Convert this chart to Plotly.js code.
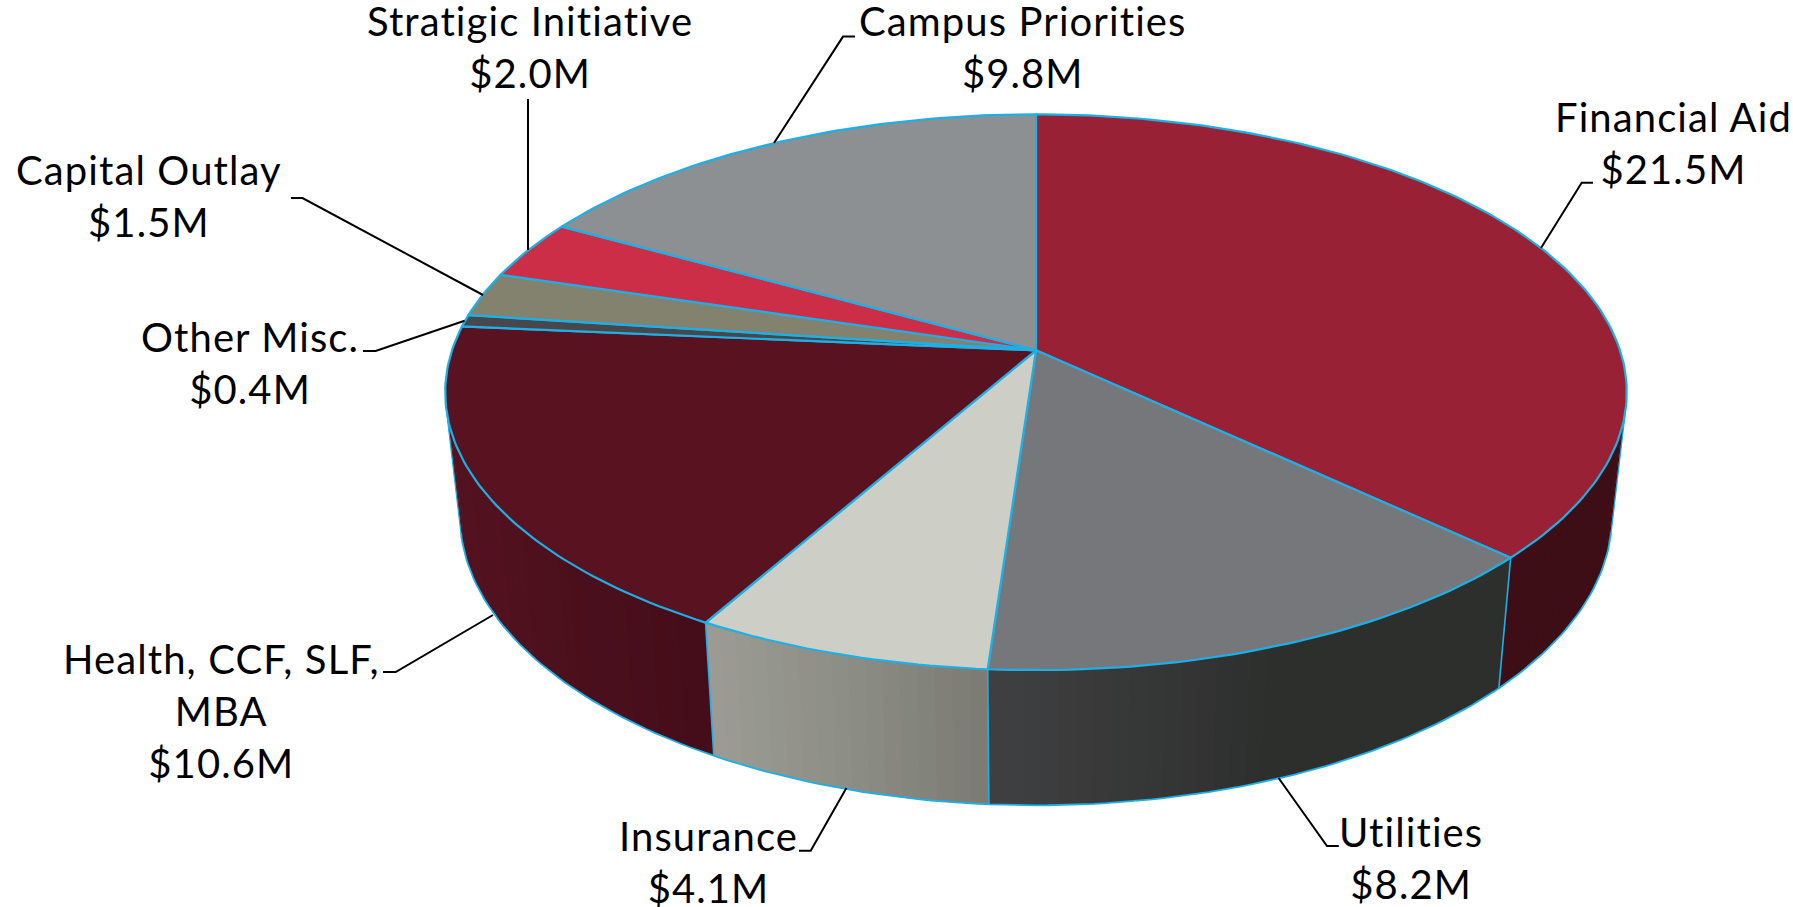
<!DOCTYPE html>
<html>
<head>
<meta charset="utf-8">
<script src="https://cdn.plot.ly/plotly-3.0.1.min.js"></script>
<style>html,body{margin:0;padding:0;background:#fff;overflow:hidden}#chart{width:1793px;height:907px}
.annotation-text{letter-spacing:1.1px}</style>
</head>
<body>
<div id="chart"></div>
<script>
// ---- data, clockwise from 12 o'clock ----
const categories = ['Financial Aid','Utilities','Insurance','Health, CCF, SLF,<br>MBA','Other Misc.','Capital Outlay','Stratigic Initiative','Campus Priorities'];
const values     = [21.5, 8.2, 4.1, 10.6, 0.4, 1.5, 2.0, 9.8];
const topColors  = ['#982135','#76777b','#cdcec6','#59121f','#47484c','#82826f','#cd2e47','#8c9093'];
// side wall shading, screen left -> middle -> right
const wallLeft   = ['#3e0e16','#404042','#9c9c94','#54121f','#47484c','#82826f','#cd2e47','#8c9093'];
const wallMid    = ['#3e0e16','#2d2f2d','#8a8b83','#4a0f1c','#47484c','#82826f','#cd2e47','#8c9093'];
const wallRight  = ['#3e0e16','#2d2f2d','#7a7a72','#440d19','#47484c','#82826f','#cd2e47','#8c9093'];
const edgeColor  = '#1cb0e6';

// ---- label placement (page pixels) ----
const labelX = [1673,1411,708,221,250,148.6,529.5,1023];
const labelY = [143,858,862,711,363,196,47,47];
const leaderX = [[1593,1581.7,1541],[1338.8,1327,1278.6],[799,810.7,846.4],[383,395.7,493],[363,375.6,464.6],[291,302.5,483],[528,528],[855,843,774]];
const leaderY = [[182.7,182.7,248],[846,846,778],[850.7,850.7,788],[672,672,615],[351,351,320.7],[198,198,295],[99,250],[36.6,36.6,143]];

// ---- perspective discs: angle is clockwise from the far point ----
const topDisc = {x0:1036,y0:350.3,A:584,a:271.6,b:0.151};
const botDisc = {x0:1036,y0:472,A:569.5,a:283,b:0.151};
function P(d,deg){
  const r=deg*Math.PI/180, sx=Math.sin(r), near=-Math.cos(r), den=1-d.b*near;
  return [d.x0+d.A*sx/den, d.y0+d.a*near/den];
}
function arc(d,from,to,step){
  const pts=[], n=Math.max(2,Math.ceil(Math.abs(to-from)/(step||1)));
  for(let i=0;i<=n;i++) pts.push(P(d,from+(to-from)*i/n));
  return pts;
}
function hex(c){return [1,3,5].map(i=>parseInt(c.substr(i,2),16));}
function mix(c1,c2,t){const a=hex(c1),b=hex(c2);return 'rgb('+a.map((v,i)=>Math.round(v+(b[i]-v)*t)).join(',')+')';}
function poly(pts,opt){
  return Object.assign({type:'scatter',mode:'lines',x:pts.map(p=>p[0]),y:pts.map(p=>p[1]),hoverinfo:'skip',showlegend:false},opt);
}

const total=values.reduce((s,v)=>s+v,0);
const bounds=[0]; values.forEach(v=>bounds.push(bounds[bounds.length-1]+v/total*360));

// silhouette angle on the right: where the wall segment is tangent to the rim
function silhouette(){
  let best=90,bestV=1e9;
  for(let t=50;t<=130;t+=0.25){
    const a=P(topDisc,t),b=P(botDisc,t),c=P(botDisc,t+0.25);
    const cr=Math.abs((b[0]-a[0])*(c[1]-b[1])-(b[1]-a[1])*(c[0]-b[0]));
    if(cr<bestV){bestV=cr;best=t;}
  }
  return best;
}
const sR=silhouette(), sL=360-sR;

const traces=[];
// side walls
values.forEach((v,i)=>{
  const from=Math.max(bounds[i],sR-2), to=Math.min(bounds[i+1],sL+2);
  if(to<=from) return;
  const xL=P(topDisc,to)[0], xR=P(topDisc,from)[0];
  const n=Math.max(1,Math.ceil((to-from)/1.5));
  for(let k=0;k<n;k++){
    const t0=from+(to-from)*k/n, t1=from+(to-from)*Math.min(n,k+1.4)/n;
    const xm=P(topDisc,(t0+t1)/2)[0];
    const f=(xm-xL)/Math.max(1,xR-xL);
    const col=f<0.55?mix(wallLeft[i],wallMid[i],f/0.55):mix(wallMid[i],wallRight[i],(f-0.55)/0.45);
    const pts=arc(topDisc,t0,t1,0.5).concat(arc(botDisc,t1,t0,0.5));
    pts.push(pts[0]);
    traces.push(poly(pts,{fill:'toself',fillcolor:col,line:{width:0,color:col}}));
  }
});
// wall outline: bottom rim, silhouettes, seams
traces.push(poly(arc(botDisc,sR,sL,1),{line:{color:edgeColor,width:1.8}}));
[sR,sL].forEach(t=>traces.push(poly([P(topDisc,t),P(botDisc,t)],{line:{color:edgeColor,width:1.2}})));
bounds.slice(1,-1).forEach(t=>{
  if(t>sR&&t<sL) traces.push(poly([P(topDisc,t),P(botDisc,t)],{line:{color:edgeColor,width:1.6}}));
});
// top face
values.forEach((v,i)=>{
  const pts=[[topDisc.x0,topDisc.y0]].concat(arc(topDisc,bounds[i],bounds[i+1],1));
  pts.push(pts[0]);
  traces.push(poly(pts,{fill:'toself',fillcolor:topColors[i],line:{color:edgeColor,width:2.2}}));
});
// leader lines
leaderX.forEach((xs,i)=>traces.push({type:'scatter',mode:'lines',x:xs,y:leaderY[i],hoverinfo:'skip',showlegend:false,line:{color:'#000',width:2}}));

const annotations=categories.map((c,i)=>({
  x:labelX[i],y:labelY[i],xref:'x',yref:'y',xanchor:'center',yanchor:'middle',align:'center',showarrow:false,
  text:c+'<br>$'+values[i].toFixed(1)+'M',
  font:{family:'Lato, "Open Sans", sans-serif',size:40,color:'#000'}
}));

Plotly.newPlot('chart',traces,{
  width:1793,height:907,margin:{l:0,r:0,t:0,b:0},
  paper_bgcolor:'#fff',plot_bgcolor:'#fff',showlegend:false,
  xaxis:{range:[0,1793],visible:false,fixedrange:true},
  yaxis:{range:[907,0],visible:false,fixedrange:true},
  annotations
},{displayModeBar:false,staticPlot:true});
</script>
</body>
</html>
